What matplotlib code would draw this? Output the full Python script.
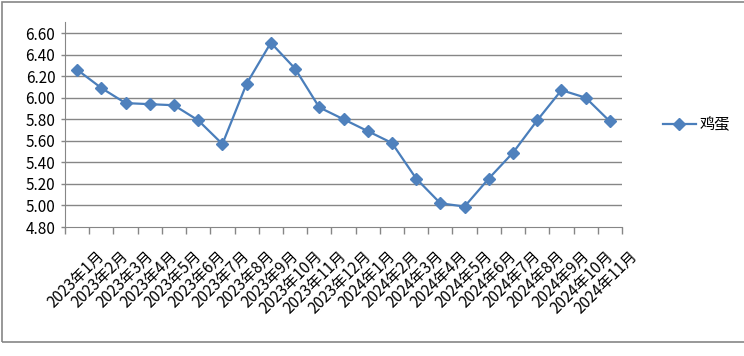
import matplotlib
matplotlib.use("Agg")
import matplotlib.pyplot as plt
import matplotlib.transforms as mtransforms
from matplotlib.patches import Rectangle
import numpy as np

plt.rcParams['font.family'] = ['Noto Sans CJK SC', 'DejaVu Sans']

months = ["2023年1月", "2023年2月", "2023年3月", "2023年4月", "2023年5月", "2023年6月",
          "2023年7月", "2023年8月", "2023年9月", "2023年10月", "2023年11月", "2023年12月",
          "2024年1月", "2024年2月", "2024年3月", "2024年4月", "2024年5月", "2024年6月",
          "2024年7月", "2024年8月", "2024年9月", "2024年10月", "2024年11月"]
egg = [6.26, 6.09, 5.95, 5.94, 5.93, 5.79, 5.57, 6.13, 6.51, 6.27, 5.91, 5.80,
       5.69, 5.58, 5.25, 5.02, 4.99, 5.25, 5.49, 5.79, 6.07, 6.00, 5.78]
yticks = [4.80, 5.00, 5.20, 5.40, 5.60, 5.80, 6.00, 6.20, 6.40, 6.60]

W, H = 744, 356
fig = plt.figure(figsize=(W / 100, H / 100), dpi=100)
ax = fig.add_axes([65 / W, 1 - 227 / H, (622 - 65) / W, (227 - 22) / H])

x = np.arange(len(months))
line_color = "#4a7ebb"
ax.plot(x, egg, color=line_color, lw=1.6, marker="D", markersize=6,
        markerfacecolor="#4f81bd", markeredgecolor="#4f81bd", label="鸡蛋")

ax.set_xlim(-0.5, len(months) - 0.5)
ax.set_ylim(4.80, 4.80 + (227 - 22) / 21.55 * 0.2)

grid_c = "#868686"
ax.set_yticks(yticks)
ax.set_yticklabels([f"{v:.2f}" for v in yticks], fontsize=11)
for v in yticks[1:]:
    ax.axhline(v, color=grid_c, lw=1, zorder=0)
ax.tick_params(axis="y", length=3, color=grid_c, width=1, pad=4)

# category ticks at boundaries, labels at centres
ax.set_xticks(np.arange(len(months) + 1) - 0.5, minor=True)
ax.set_xticks(x)
ax.set_xticklabels(months, rotation=45, ha="right", va="top", fontsize=11)
ax.tick_params(axis="x", which="major", length=0, pad=0)
ax.tick_params(axis="x", which="minor", length=5, color=grid_c, width=1)
offset = mtransforms.ScaledTranslation(31 / 100, -21 / 100, fig.dpi_scale_trans)
for lab in ax.get_xticklabels():
    lab.set_transform(lab.get_transform() + offset)

for side in ["top", "right"]:
    ax.spines[side].set_visible(False)
ax.spines["left"].set_color(grid_c)
ax.spines["bottom"].set_color(grid_c)

fig.legend(loc="center left", bbox_to_anchor=(655 / W, 1 - 125 / H), frameon=False,
           fontsize=11, handlelength=2.2, handletextpad=0.2, borderpad=0)

fig.patches.append(Rectangle((2 / W, 1 - 342 / H), 1.0, (342 - 2) / H,
                             transform=fig.transFigure, fill=False,
                             edgecolor=grid_c, lw=1.2))

fig.savefig("out.png", dpi=100)
